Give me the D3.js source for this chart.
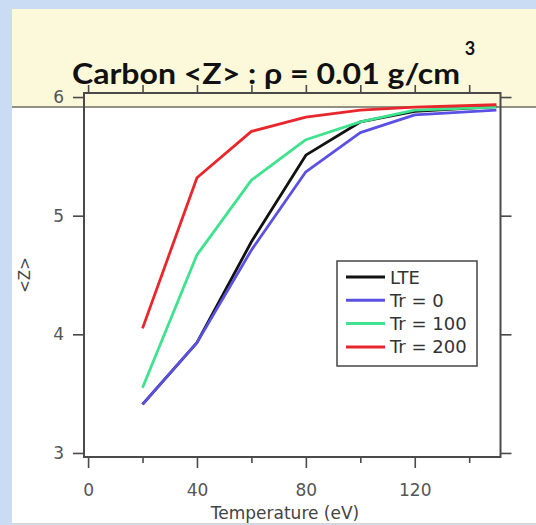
<!DOCTYPE html>
<html>
<head>
<meta charset="utf-8">
<script src="https://cdn.jsdelivr.net/npm/d3@7"></script>
<style>
  html, body { margin: 0; padding: 0; background: #cadcf3; }
  svg { display: block; }
</style>
</head>
<body>
<script>
// Mean ionization <Z> of carbon at rho = 0.01 g/cm^3 versus electron temperature
const temperatures = [20, 40, 60, 80, 100, 120, 150];
const zLTE   = [3.41, 3.93, 4.78, 5.51, 5.79, 5.88, 5.92];
const zTr0   = [3.41, 3.93, 4.71, 5.37, 5.70, 5.85, 5.89];
const zTr100 = [3.55, 4.67, 5.30, 5.64, 5.79, 5.89, 5.915];
const zTr200 = [4.05, 5.32, 5.71, 5.83, 5.89, 5.915, 5.935];
const seriesNames  = ["LTE", "Tr = 0", "Tr = 100", "Tr = 200"];
const seriesColors = ["#111111", "#5b50e4", "#3fe28e", "#e8262b"];
const xMajorTicks = [0, 40, 80, 120];
const xMinorTicks = [20, 60, 100, 140];
const yTicks = [3, 4, 5, 6];

const W = 536, H = 525;
const svg = d3.select("body").append("svg").attr("width", W).attr("height", H);

// slide panel: yellow title band over white body
svg.append("rect").attr("x", 12).attr("y", 9).attr("width", W - 12).attr("height", 98).attr("fill", "#fcf9da");
svg.append("rect").attr("x", 12).attr("y", 107).attr("width", W - 12).attr("height", 416).attr("fill", "#ffffff");
svg.append("line").attr("x1", 12).attr("x2", W).attr("y1", 107).attr("y2", 107)
  .attr("stroke", "#6e6d5f").attr("stroke-width", 1.5);
svg.append("line").attr("x1", 12).attr("x2", W).attr("y1", 523.5).attr("y2", 523.5)
  .attr("stroke", "#d8d8d0").attr("stroke-width", 1);

const x = d3.scaleLinear().domain([-1.5, 151.5]).range([84, 500.5]);
const y = d3.scaleLinear().domain([2.966, 6.034]).range([457, 93]);

const axisColor = "#4a4a4a";
const tickFont = "DejaVu Sans, Verdana, sans-serif";

function styleAxis(g) {
  g.select(".domain").remove();
  g.selectAll(".tick line").attr("stroke", axisColor).attr("stroke-width", 1.6);
  g.selectAll(".tick text").attr("fill", "#555").attr("font-size", 17).attr("font-family", tickFont);
}

// bottom axis: labelled major ticks and short minor ticks
svg.append("g").attr("transform", "translate(0,457)")
  .call(d3.axisBottom(x).tickValues(xMajorTicks).tickSize(11).tickPadding(16).tickFormat(d3.format("d")))
  .call(styleAxis);
svg.append("g").attr("transform", "translate(0,457)")
  .call(d3.axisBottom(x).tickValues(xMinorTicks).tickSize(6).tickFormat(""))
  .call(styleAxis);
// top axis: unlabelled ticks
svg.append("g").attr("transform", "translate(0,93)")
  .call(d3.axisTop(x).tickValues(xMajorTicks.concat(xMinorTicks)).tickSize(8).tickFormat(""))
  .call(styleAxis);
// left axis
svg.append("g").attr("transform", "translate(84,0)")
  .call(d3.axisLeft(y).tickValues(yTicks).tickSize(11).tickPadding(9).tickFormat(d3.format("d")))
  .call(styleAxis);
// right axis: unlabelled ticks
svg.append("g").attr("transform", "translate(500.5,0)")
  .call(d3.axisRight(y).tickValues(yTicks).tickSize(11).tickFormat(""))
  .call(styleAxis);

// plot frame
svg.append("rect").attr("x", 84).attr("y", 93).attr("width", 416.5).attr("height", 364)
  .attr("fill", "none").attr("stroke", axisColor).attr("stroke-width", 2);

// curves
const seriesValues = [zLTE, zTr0, zTr100, zTr200];
const line = d3.line().x(d => x(d[0])).y(d => y(d[1]));
seriesValues.forEach((vals, i) => {
  svg.append("path")
    .datum(temperatures.map((t, j) => [t, vals[j]]))
    .attr("d", line)
    .attr("fill", "none")
    .attr("stroke", seriesColors[i])
    .attr("stroke-width", 2.8)
    .attr("stroke-linejoin", "round");
});

// legend
const legend = svg.append("g");
legend.append("rect").attr("x", 337).attr("y", 261).attr("width", 140).attr("height", 105)
  .attr("fill", "#ffffff").attr("stroke", "#444").attr("stroke-width", 1.5);
seriesNames.forEach((name, i) => {
  const cy = 277 + i * 23.3;
  legend.append("line").attr("x1", 346).attr("x2", 385).attr("y1", cy).attr("y2", cy)
    .attr("stroke", seriesColors[i]).attr("stroke-width", 3);
  legend.append("text").attr("x", 390).attr("y", cy + 6.5).text(name)
    .attr("font-family", tickFont).attr("font-size", 18).attr("fill", "#333");
});

// axis titles
svg.append("text").attr("x", 285).attr("y", 519).attr("text-anchor", "middle")
  .attr("font-family", tickFont).attr("font-size", 17).attr("fill", "#444")
  .text("Temperature (eV)");
svg.append("text").attr("transform", "translate(30,275) rotate(-90)").attr("text-anchor", "middle")
  .attr("font-family", tickFont).attr("font-size", 15).attr("fill", "#444")
  .text("<Z>");

// chart title with superscript
svg.append("text").attr("x", 72).attr("y", 84)
  .attr("font-family", "Lato, 'Open Sans', sans-serif").attr("font-weight", "bold")
  .attr("font-size", 28).attr("fill", "#111")
  .attr("textLength", 388).attr("lengthAdjust", "spacingAndGlyphs")
  .text("Carbon <Z> : ρ = 0.01 g/cm");
svg.append("text").attr("x", 470).attr("y", 55).attr("text-anchor", "middle")
  .attr("font-family", "Lato, 'Open Sans', sans-serif").attr("font-weight", "bold")
  .attr("font-size", 18).attr("fill", "#111")
  .text("3");
</script>
</body>
</html>
